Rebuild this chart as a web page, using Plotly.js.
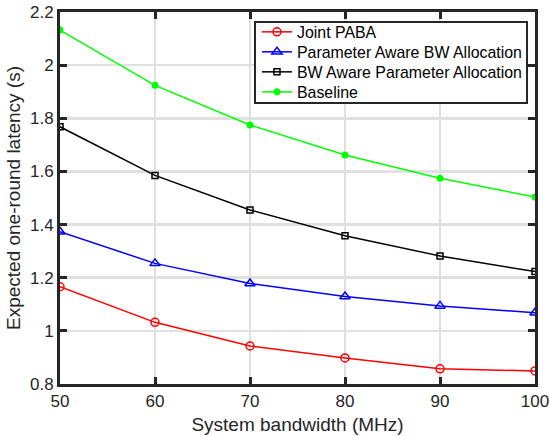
<!DOCTYPE html>
<html>
<head>
<meta charset="utf-8">
<script src="https://cdn.plot.ly/plotly-3.0.1.min.js"></script>
<style>html,body{margin:0;padding:0;background:#fff;}#chart{width:550px;height:436px;}</style>
</head>
<body>
<div id="chart"></div>
<script>
const bandwidth = [50, 60, 70, 80, 90, 100];
const jointPABA = [1.166, 1.032, 0.943, 0.898, 0.857, 0.849];
const paramAwareBW = [1.373, 1.254, 1.178, 1.129, 1.094, 1.068];
const bwAwareParam = [1.768, 1.585, 1.455, 1.358, 1.282, 1.223];
const baseline = [2.132, 1.924, 1.775, 1.662, 1.574, 1.504];
const seriesNames = ['Joint PABA', 'Parameter Aware BW Allocation', 'BW Aware Parameter Allocation', 'Baseline'];
const xTicks = [50, 60, 70, 80, 90, 100];
const yTicks = [0.8, 1, 1.2, 1.4, 1.6, 1.8, 2, 2.2];
const yTickText = ['0.8', '1', '1.2', '1.4', '1.6', '1.8', '2', '2.2'];

const axisColor = '#262626';
const font = 'Liberation Sans, Arial, Helvetica, sans-serif';

const legendIds = ['legend', 'legend2', 'legend3', 'legend4'];

const traces = [
  {x: bandwidth, y: jointPABA, name: seriesNames[0], mode: 'lines+markers', legend: legendIds[0],
   line: {color: '#ff0000', width: 1.5},
   marker: {symbol: 'circle-open', size: 8, color: '#ff0000', line: {width: 1.5, color: '#ff0000'}}},
  {x: bandwidth, y: paramAwareBW, name: seriesNames[1], mode: 'lines+markers', legend: legendIds[1],
   line: {color: '#0000ff', width: 1.5},
   marker: {symbol: 'triangle-up-open', size: 9, color: '#0000ff', line: {width: 1.5, color: '#0000ff'}}},
  {x: bandwidth, y: bwAwareParam, name: seriesNames[2], mode: 'lines+markers', legend: legendIds[2],
   line: {color: '#000000', width: 1.5},
   marker: {symbol: 'square-open', size: 6, color: '#000000', line: {width: 1.5, color: '#000000'}}},
  {x: bandwidth, y: baseline, name: seriesNames[3], mode: 'lines+markers', legend: legendIds[3],
   line: {color: '#00ff00', width: 1.5},
   marker: {symbol: 'circle', size: 7, color: '#00ff00'}}
];

// legend rows placement (paper coords)
const legendRowY = [0.9462, 0.8925, 0.8387, 0.7849];
function legendCfg(y) {
  return {
    x: 0.4147, y: y, xanchor: 'left', yanchor: 'middle',
    bgcolor: 'rgba(0,0,0,0)', borderwidth: 0,
    font: {family: font, size: 15.9, color: '#000000'}
  };
}

const layout = {
  width: 550, height: 436,
  margin: {l: 60, r: 15, t: 12, b: 52, pad: 0},
  paper_bgcolor: '#ffffff', plot_bgcolor: '#ffffff',
  font: {family: font, color: axisColor, size: 17},
  showlegend: true,
  legend: legendCfg(legendRowY[0]),
  legend2: legendCfg(legendRowY[1]),
  legend3: legendCfg(legendRowY[2]),
  legend4: legendCfg(legendRowY[3]),
  shapes: [{
    type: 'rect', xref: 'paper', yref: 'paper', layer: 'above',
    x0: 0.4105, x1: 0.9832, y0: 0.7554, y1: 0.9731,
    fillcolor: '#ffffff', line: {color: axisColor, width: 2}
  }],
  xaxis: {
    range: [50, 100], tickvals: xTicks, ticktext: xTicks.map(String),
    showline: true, linecolor: axisColor, linewidth: 3, mirror: 'ticks',
    ticks: 'inside', ticklen: 7, tickwidth: 3, tickcolor: axisColor,
    showgrid: true, gridcolor: '#e0e0e0', gridwidth: 2.5, zeroline: false,
    tickfont: {size: 17, color: axisColor},
    title: {text: 'System bandwidth (MHz)', font: {size: 19, color: axisColor}, standoff: 8}
  },
  yaxis: {
    range: [0.8, 2.2], tickvals: yTicks, ticktext: yTickText,
    showline: true, linecolor: axisColor, linewidth: 3, mirror: 'ticks',
    ticks: 'inside', ticklen: 7, tickwidth: 3, tickcolor: axisColor,
    showgrid: true, gridcolor: '#e0e0e0', gridwidth: 2.5, zeroline: false,
    tickfont: {size: 17, color: axisColor},
    title: {text: 'Expected one-round latency (s)', font: {size: 19, color: axisColor}, standoff: 5}
  }
};

Plotly.newPlot('chart', traces, layout, {displayModeBar: false, staticPlot: true});
</script>
</body>
</html>
